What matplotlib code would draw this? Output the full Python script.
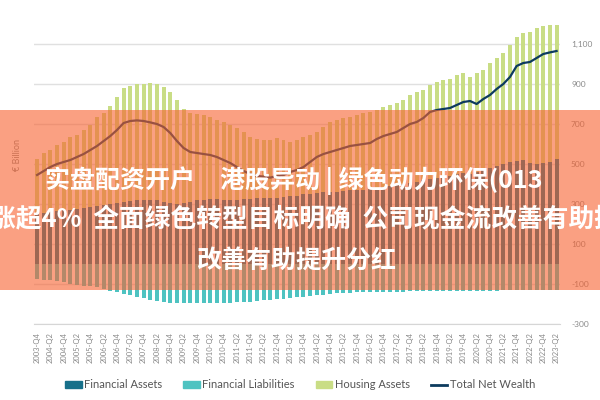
import matplotlib
matplotlib.use("Agg")
import matplotlib.pyplot as plt
import numpy as np
from matplotlib.patches import Rectangle, Patch
from matplotlib.lines import Line2D
from matplotlib.ticker import FuncFormatter

plt.rcParams["font.family"] = ["Lato", "DejaVu Sans"]

# quarters 2003-Q4 .. 2023-Q2
quarters = []
for k in range(79):
    year = 2003 + (k + 3) // 4
    q = (k + 3) % 4 + 1
    quarters.append(f"{year}-Q{q}")

financial_assets = [
    250, 255, 260, 265, 270, 272, 275, 280, 285, 290,
    295, 300, 305, 310, 315, 318, 320, 320, 318, 312,
    305, 300, 305, 312, 318, 322, 325, 325, 322, 320,
    322, 325, 325, 328, 330, 330, 332, 335, 338, 342,
    348, 352, 355, 358, 360, 362, 365, 368, 370, 372,
    375, 380, 385, 390, 395, 400, 405, 410, 418, 425,
    430, 435, 440, 448, 455, 450, 460, 470, 480, 490,
    500, 510, 515, 520, 505, 500, 505, 510, 525,
]

housing_assets = [
    275, 300, 310, 330, 340, 363, 370, 390, 410, 445,
    460, 490, 530, 570, 575, 582, 580, 585, 582, 573,
    555, 520, 470, 443, 432, 423, 410, 395, 388, 375,
    358, 335, 310, 297, 290, 290, 298, 285, 272, 278,
    287, 293, 305, 327, 350, 358, 365, 367, 375, 383,
    385, 390, 400, 405, 410, 420, 440, 450, 452, 470,
    480, 485, 485, 497, 500, 485, 495, 500, 525, 540,
    555, 585, 620, 635, 655, 680, 685, 685, 670,
]

financial_liabilities = [
    -75, -78, -82, -86, -92, -98, -103, -108, -112, -116,
    -125, -135, -142, -150, -157, -163, -170, -178, -185, -190,
    -193, -195, -196, -197, -197, -197, -196, -195, -195, -194,
    -192, -190, -188, -185, -182, -180, -177, -174, -170, -167,
    -163, -160, -157, -153, -150, -147, -145, -143, -142, -140,
    -140, -139, -139, -138, -138, -138, -137, -137, -136, -136,
    -136, -135, -135, -135, -134, -134, -134, -133, -133, -133,
    -132, -132, -132, -131, -131, -131, -130, -130, -130,
]

total_net_wealth = [
    445, 465, 485, 500, 510, 520, 535, 550, 570, 590,
    615, 640, 670, 705, 715, 718, 715, 708, 700, 685,
    655, 615, 580, 560, 555, 550, 545, 535, 520, 505,
    485, 465, 450, 440, 437, 432, 440, 445, 460, 470,
    485, 510, 535, 550, 560, 570, 580, 590, 595, 600,
    605, 625, 640, 650, 660, 680, 700, 710, 730, 760,
    770, 775, 780, 795, 810, 815, 800, 825, 845, 875,
    900, 935, 990, 1005, 1010, 1030, 1050, 1058, 1065,
]

c_fa = "#17708A"
c_fl = "#4EC3C1"
c_ha = "#C9DD85"
c_tnw = "#0D3B5E"
grey = "#8a8a8a"

fig = plt.figure(figsize=(6, 4), dpi=100)
ax = fig.add_axes([0.0562, 0.19, 0.877, 0.8])

x = np.arange(len(quarters))
ax.bar(x, financial_assets, width=0.6, color=c_fa, zorder=2)
ax.bar(x, housing_assets, width=0.6, bottom=financial_assets, color=c_ha, zorder=2)
ax.bar(x, financial_liabilities, width=0.6, color=c_fl, zorder=2)
ax.plot(x, total_net_wealth, color=c_tnw, lw=1.6, zorder=3)

ax.set_xlim(-0.5, len(quarters) - 0.5)
ax.set_ylim(-300, 1300)
ax.set_yticks(range(-300, 1101, 200))
ax.yaxis.set_major_formatter(FuncFormatter(lambda v, p: f"{int(v):,}"))
ax.yaxis.tick_right()
ax.tick_params(axis="y", length=0, pad=8, labelsize=6, labelcolor=grey)
ax.set_xticks(x[::2])
ax.set_xticklabels(quarters[::2], rotation=90, fontsize=5.5, color=grey)
ax.tick_params(axis="x", length=0, pad=6)
ax.grid(axis="y", color="#e0e0e0", lw=1, zorder=0)
for s in ["top", "left", "right"]:
    ax.spines[s].set_visible(False)
ax.spines["bottom"].set_color("#d6d6d6")

fig.text(17 / 600, 1 - 155 / 400, "€ Billion", rotation=90, ha="center", va="center",
         fontsize=6.5, color=grey)

handles = [
    Patch(color=c_fa, label="Financial Assets"),
    Patch(color=c_fl, label="Financial Liabilities"),
    Patch(color=c_ha, label="Housing Assets"),
    Line2D([], [], color=c_tnw, lw=2, label="Total Net Wealth"),
]
fig.legend(handles=handles, loc="center", bbox_to_anchor=(0.5, 1 - 385 / 400), ncol=4,
           frameon=False, fontsize=8, labelcolor="#555555", handlelength=1.5,
           handleheight=0.5, handletextpad=0.2, columnspacing=1.9)

# overlay banner
fig.add_artist(Rectangle((0, 0.275), 1, 0.45, transform=fig.transFigure,
                         color=(247 / 255, 97 / 255, 47 / 255), alpha=0.6, zorder=10, lw=0))
cjk = ["Noto Sans CJK SC", "DejaVu Sans"]
banner_lines = [
    (45, 181, 18, "实盘配资开户\u3000港股异动 | 绿色动力环保(013"),
    (-10, 219, 18.5, "涨超4%  全面绿色转型目标明确  公司现金流改善有助提"),
    (196, 261, 18, "改善有助提升分红"),
]
for px, py, fs, s in banner_lines:
    fig.text(px / 600, 1 - py / 400, s, family=cjk, fontsize=fs, fontweight="bold",
             color="white", ha="left", va="center", zorder=11)

fig.savefig("out.png", dpi=100)
